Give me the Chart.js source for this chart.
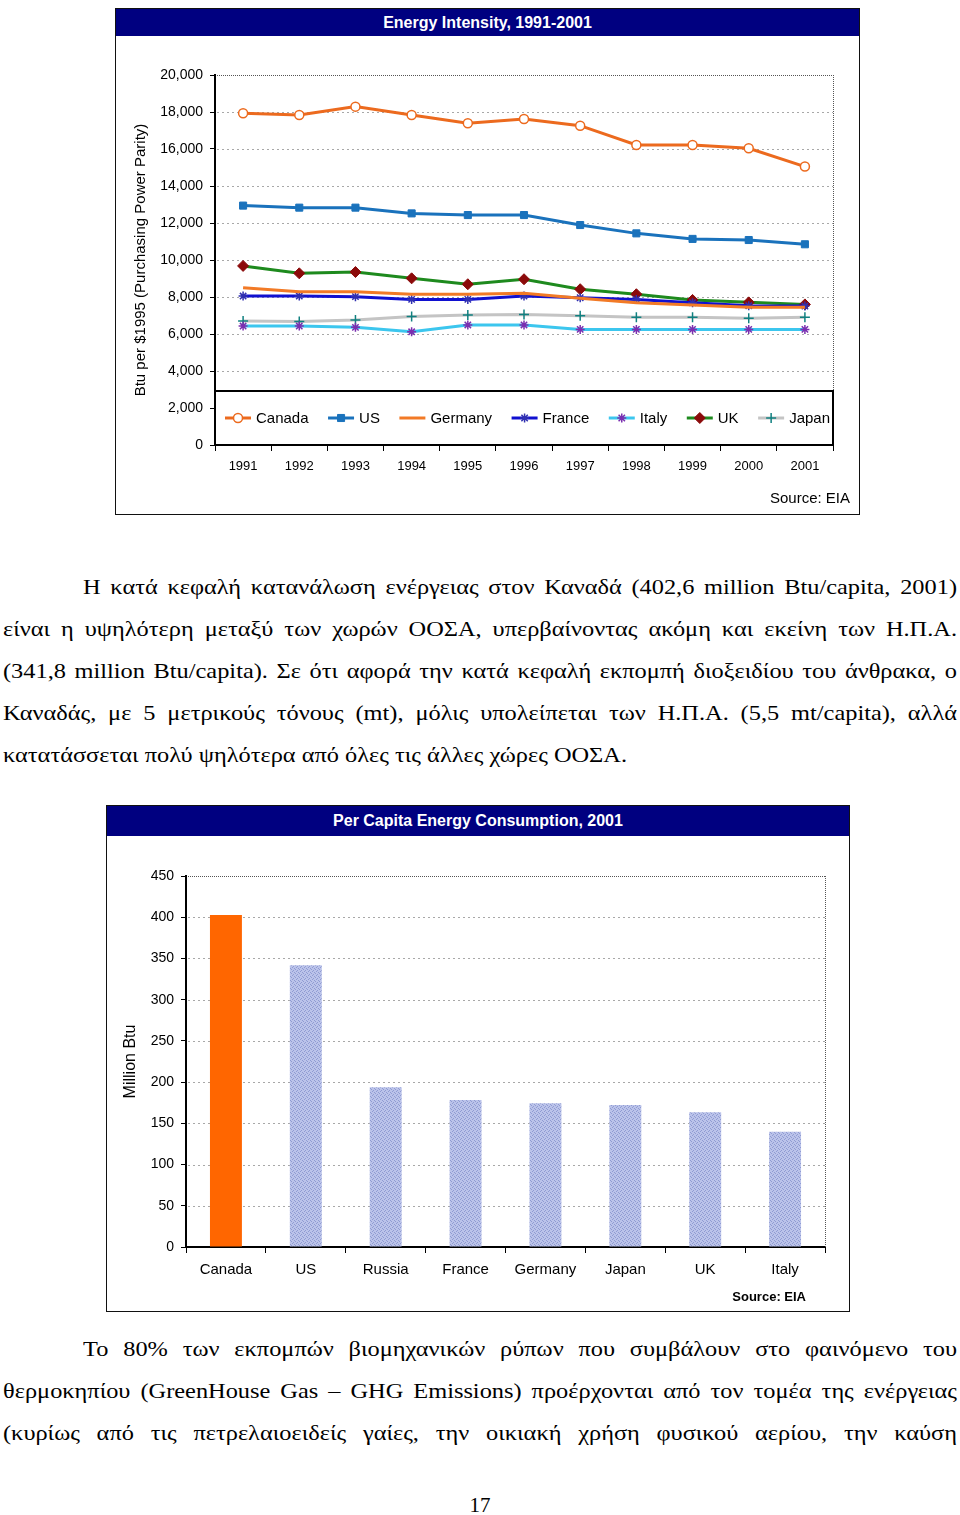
<!DOCTYPE html>
<html><head><meta charset="utf-8">
<script src="https://cdn.jsdelivr.net/npm/chart.js@4.4.0/dist/chart.umd.min.js"></script>
<style>
html,body{margin:0;padding:0;background:#fff}
body{width:960px;height:1515px;position:relative;overflow:hidden}
.frame{position:absolute;border:1px solid #111;background:#fff;box-sizing:border-box}
.tbar{position:absolute;left:0;top:0;right:0;background:#000080;color:#fff;font:bold 16px "Liberation Sans",Arial,sans-serif;text-align:center}
.src{position:absolute;font-family:"Liberation Sans",Arial,sans-serif;color:#000;text-align:right;white-space:nowrap}
canvas{position:absolute}
.ln{position:absolute;font-family:"Liberation Serif","Times New Roman",serif;font-size:22px;line-height:42px;height:42px;white-space:nowrap;color:#000}
.ln span{white-space:nowrap;display:inline-block;transform-origin:0 0}
.pg{position:absolute;left:0;width:960px;text-align:center;font-family:"Liberation Serif","Times New Roman",serif;font-size:21px;line-height:42px}
</style></head>
<body>
<div class="frame" style="left:115px;top:8px;width:745px;height:507px">
  <div class="tbar" style="height:27px;line-height:27px">Energy Intensity, 1991-2001</div>
</div>
<canvas id="c1" width="742" height="477" style="left:116px;top:36px;width:742px;height:477px"></canvas>
<div class="src" style="left:650px;width:200px;top:489px;font-size:15px;line-height:18px">Source: EIA</div>

<div class="ln" data-w="874" data-j="1" style="left:83px;top:566px"><span>Η κατά κεφαλή κατανάλωση ενέργειας στον Καναδά (402,6 million Btu/capita, 2001)</span></div>
<div class="ln" data-w="954" data-j="1" style="left:3px;top:608px"><span>είναι η υψηλότερη μεταξύ των χωρών ΟΟΣΑ, υπερβαίνοντας ακόμη και εκείνη των Η.Π.Α.</span></div>
<div class="ln" data-w="954" data-j="1" style="left:3px;top:650px"><span>(341,8 million Btu/capita). Σε ότι αφορά την κατά κεφαλή εκπομπή διοξειδίου του άνθρακα, ο</span></div>
<div class="ln" data-w="954" data-j="1" style="left:3px;top:692px"><span>Καναδάς, με 5 μετρικούς τόνους (mt), μόλις υπολείπεται των Η.Π.Α. (5,5 mt/capita), αλλά</span></div>
<div class="ln" data-w="624" data-j="0" style="left:3px;top:734px"><span>κατατάσσεται πολύ ψηλότερα από όλες τις άλλες χώρες ΟΟΣΑ.</span></div>

<div class="frame" style="left:106px;top:805px;width:744px;height:507px">
  <div class="tbar" style="height:30px;line-height:30px">Per Capita Energy Consumption, 2001</div>
</div>
<canvas id="c2" width="741" height="473" style="left:107px;top:837px;width:741px;height:473px"></canvas>
<div class="src" style="left:606px;width:200px;top:1289px;font-size:13px;line-height:16px;font-weight:bold">Source: EIA</div>

<div class="ln" data-w="874" data-j="1" style="left:83px;top:1328px"><span>Το 80% των εκπομπών βιομηχανικών ρύπων που συμβάλουν στο φαινόμενο του</span></div>
<div class="ln" data-w="954" data-j="1" style="left:3px;top:1370px"><span>θερμοκηπίου (GreenHouse Gas – GHG Emissions) προέρχονται από τον τομέα της ενέργειας</span></div>
<div class="ln" data-w="954" data-j="1" style="left:3px;top:1412px"><span>(κυρίως από τις πετρελαιοειδείς γαίες, την οικιακή χρήση φυσικού αερίου, την καύση</span></div>
<div class="pg" style="top:1484px">17</div>

<script>
// ---------- DATA ----------
const years = ['1991','1992','1993','1994','1995','1996','1997','1998','1999','2000','2001'];
const canada  = [17930, 17840, 18290, 17840, 17390, 17620, 17260, 16220, 16220, 16040, 15050];
const us      = [12940, 12830, 12830, 12520, 12430, 12430, 11890, 11440, 11140, 11080, 10850];
const germany = [8500, 8290, 8290, 8150, 8150, 8200, 7930, 7690, 7570, 7440, 7440];
const france  = [8050, 8050, 8020, 7870, 7870, 8050, 7960, 7870, 7690, 7530, 7510];
const italy   = [6430, 6430, 6360, 6120, 6490, 6490, 6250, 6250, 6250, 6250, 6250];
const uk      = [9680, 9280, 9350, 9010, 8690, 8960, 8420, 8150, 7840, 7710, 7600];
const japan   = [6700, 6670, 6760, 6940, 7030, 7060, 6990, 6900, 6900, 6850, 6900];

const countries = ['Canada','US','Russia','France','Germany','Japan','UK','Italy'];
const perCapita = [402.6, 341.8, 193.7, 178.3, 174.3, 172.2, 163.4, 139.9];

// ---------- text justification (reference text is horizontally stretched) ----------
(function () {
  const lines = Array.from(document.querySelectorAll('.ln'));
  // horizontal stretch derived from the unjustified last line
  let k = 1;
  lines.forEach(el => {
    if (el.dataset.j === '0') {
      const w = el.firstElementChild.getBoundingClientRect().width;
      k = parseFloat(el.dataset.w) / w;
    }
  });
  lines.forEach(el => {
    const target = parseFloat(el.dataset.w);
    const span = el.firstElementChild;
    const w = span.getBoundingClientRect().width;
    let kk = k;
    if (el.dataset.j === '1') {
      const gaps = (span.textContent.match(/ /g) || []).length;
      if (w * kk > target) kk = target / w;
      else if (gaps) span.style.wordSpacing = ((target / kk - w) / gaps) + 'px';
    } else {
      kk = target / w;
    }
    span.style.transform = 'scaleX(' + kk + ')';
  });
})();

Chart.defaults.font.family = '"Liberation Sans", Arial, sans-serif';
Chart.defaults.color = '#000';
Chart.defaults.animation = false;

const gridPlugin = {
  id: 'gridPlugin',
  beforeDatasetsDraw(chart) {
    const {ctx, chartArea: ca, scales: {y}} = chart;
    ctx.save();
    ctx.lineWidth = 1;
    y.ticks.forEach(t => {
      if (t.value === y.min) return;
      const py = Math.round(y.getPixelForValue(t.value)) + 0.5;
      if (t.value === y.max) { ctx.strokeStyle = '#555'; ctx.setLineDash([1, 1]); }
      else { ctx.strokeStyle = '#a8a8a8'; ctx.setLineDash([2, 3]); }
      ctx.beginPath(); ctx.moveTo(ca.left + 2, py); ctx.lineTo(ca.right, py); ctx.stroke();
    });
    ctx.strokeStyle = '#555'; ctx.setLineDash([1, 1]);
    const rx = Math.round(ca.right) + 0.5;
    ctx.beginPath(); ctx.moveTo(rx, ca.top); ctx.lineTo(rx, ca.bottom); ctx.stroke();
    ctx.restore();
  }
};

const legendBox = {
  id: 'legendBox',
  afterDatasetsDraw(chart, args, opts) {
    if (!opts || !opts.height) return;
    const {ctx, chartArea: ca} = chart;
    const h = opts.height;
    const top = ca.bottom - h;
    ctx.save();
    ctx.fillStyle = '#fff';
    ctx.fillRect(ca.left, top, ca.right - ca.left, h);
    ctx.strokeStyle = '#000'; ctx.lineWidth = 2;
    ctx.strokeRect(ca.left, top, ca.right - ca.left, h);
    ctx.font = '15px "Liberation Sans", Arial, sans-serif';
    const items = chart.data.datasets.map(ds => ({ds, tw: ctx.measureText(ds.label).width}));
    const sample = 26, tg = 5;
    const total = items.reduce((s, it) => s + sample + tg + it.tw, 0);
    const x0 = ca.left + 10, x1 = ca.right - 3;
    const gap = (x1 - x0 - total) / (items.length - 1);
    let x = x0;
    const y = top + h / 2;
    items.forEach(it => {
      const ds = it.ds;
      ctx.setLineDash([]);
      ctx.strokeStyle = ds.borderColor; ctx.lineWidth = 3;
      ctx.beginPath(); ctx.moveTo(x, y); ctx.lineTo(x + sample, y); ctx.stroke();
      if (ds.pointRadius > 0) {
        ctx.fillStyle = ds.pointBackgroundColor;
        ctx.strokeStyle = ds.pointBorderColor;
        ctx.lineWidth = ds.pointBorderWidth;
        Chart.helpers.drawPoint(ctx, {pointStyle: ds.pointStyle, radius: ds.pointRadius, borderWidth: ds.pointBorderWidth, rotation: 0}, x + sample / 2, y);
      }
      ctx.fillStyle = '#000'; ctx.textBaseline = 'middle'; ctx.textAlign = 'left';
      ctx.fillText(ds.label, x + sample + tg, y + 1);
      x += sample + tg + it.tw + gap;
    });
    ctx.restore();
  }
};

function lineDs(label, data, color, style, radius, fill, border, bw) {
  return {
    label, data,
    borderColor: color, backgroundColor: color, borderWidth: 3,
    pointStyle: style, pointRadius: radius, pointHoverRadius: radius,
    pointBackgroundColor: fill, pointBorderColor: border, pointBorderWidth: bw,
    tension: 0, fill: false
  };
}

new Chart(document.getElementById('c1'), {
  type: 'line',
  data: {
    labels: years,
    datasets: [
      lineDs('Canada', canada, '#EC6A1E', 'circle', 4.5, '#ffffff', '#EC6A1E', 1.5),
      lineDs('US', us, '#1A72BC', 'rect', 5, '#1A72BC', '#1A72BC', 1),
      lineDs('Germany', germany, '#F27A26', 'circle', 0, '#F27A26', '#F27A26', 0),
      lineDs('France', france, '#1010D0', 'star', 4.5, '#1010D0', '#3030B0', 1.5),
      lineDs('Italy', italy, '#3CC6EE', 'star', 4.5, '#7A2FB0', '#7A2FB0', 1.5),
      lineDs('UK', uk, '#1E8A1E', 'rectRot', 5.5, '#8B0A0A', '#8B0A0A', 1),
      lineDs('Japan', japan, '#C4C4C4', 'cross', 5, '#108080', '#108080', 1.5)
    ]
  },
  options: {
    responsive: false,
    animation: false,
    layout: {padding: {left: 0, right: 25, top: 39, bottom: 0}},
    plugins: {legend: {display: false}, tooltip: {enabled: false}, legendBox: {height: 54}},
    scales: {
      x: {
        offset: true,
        grid: {offset: true, drawOnChartArea: false, drawTicks: true, tickLength: 6, color: '#000', tickColor: '#000'},
        border: {display: true, color: '#000', width: 2},
        ticks: {font: {size: 13}, padding: 8, maxRotation: 0, autoSkip: false},
        afterFit(s) { s.height = 68; }
      },
      y: {
        min: 0, max: 20000,
        grid: {drawOnChartArea: false, drawTicks: true, tickLength: 5, color: '#000', tickColor: '#000'},
        border: {display: true, color: '#000', width: 2},
        ticks: {stepSize: 2000, font: {size: 14}, padding: 7, callback: v => v.toLocaleString('en-US')},
        title: {display: true, text: 'Btu per $1995 (Purchasing Power Parity)', font: {size: 15}, padding: {top: 16, bottom: 0}},
        afterFit(s) { s.width = 99; }
      }
    }
  },
  plugins: [gridPlugin, legendBox]
});

// stipple pattern for the bars
const pc = document.createElement('canvas'); pc.width = 4; pc.height = 4;
const pg = pc.getContext('2d');
pg.fillStyle = '#BBC3EA'; pg.fillRect(0, 0, 4, 4);
pg.fillStyle = '#8F9BD2'; pg.fillRect(0, 0, 1, 1); pg.fillRect(2, 1, 1, 1); pg.fillRect(1, 2, 1, 1); pg.fillRect(3, 3, 1, 1);
const stipple = pg.createPattern(pc, 'repeat');

new Chart(document.getElementById('c2'), {
  type: 'bar',
  data: {
    labels: countries,
    datasets: [{
      label: 'Million Btu',
      data: perCapita,
      backgroundColor: countries.map(c => c === 'Canada' ? '#FF6600' : stipple),
      borderWidth: 0,
      barPercentage: 0.4,
      categoryPercentage: 1
    }]
  },
  options: {
    responsive: false,
    animation: false,
    layout: {padding: {left: 0, right: 23, top: 39, bottom: 0}},
    plugins: {legend: {display: false}, tooltip: {enabled: false}},
    scales: {
      x: {
        grid: {offset: true, drawOnChartArea: false, drawTicks: true, tickLength: 6, color: '#000', tickColor: '#000'},
        border: {display: true, color: '#000', width: 2},
        ticks: {font: {size: 15}, padding: 8, maxRotation: 0, autoSkip: false},
        afterFit(s) { s.height = 63; }
      },
      y: {
        min: 0, max: 450,
        grid: {drawOnChartArea: false, drawTicks: true, tickLength: 5, color: '#000', tickColor: '#000'},
        border: {display: true, color: '#000', width: 2},
        ticks: {stepSize: 50, font: {size: 14}, padding: 7},
        title: {display: true, text: 'Million Btu', font: {size: 16}, padding: {top: 14, bottom: 0}},
        afterFit(s) { s.width = 79; }
      }
    }
  },
  plugins: [gridPlugin]
});
</script>
</body></html>
